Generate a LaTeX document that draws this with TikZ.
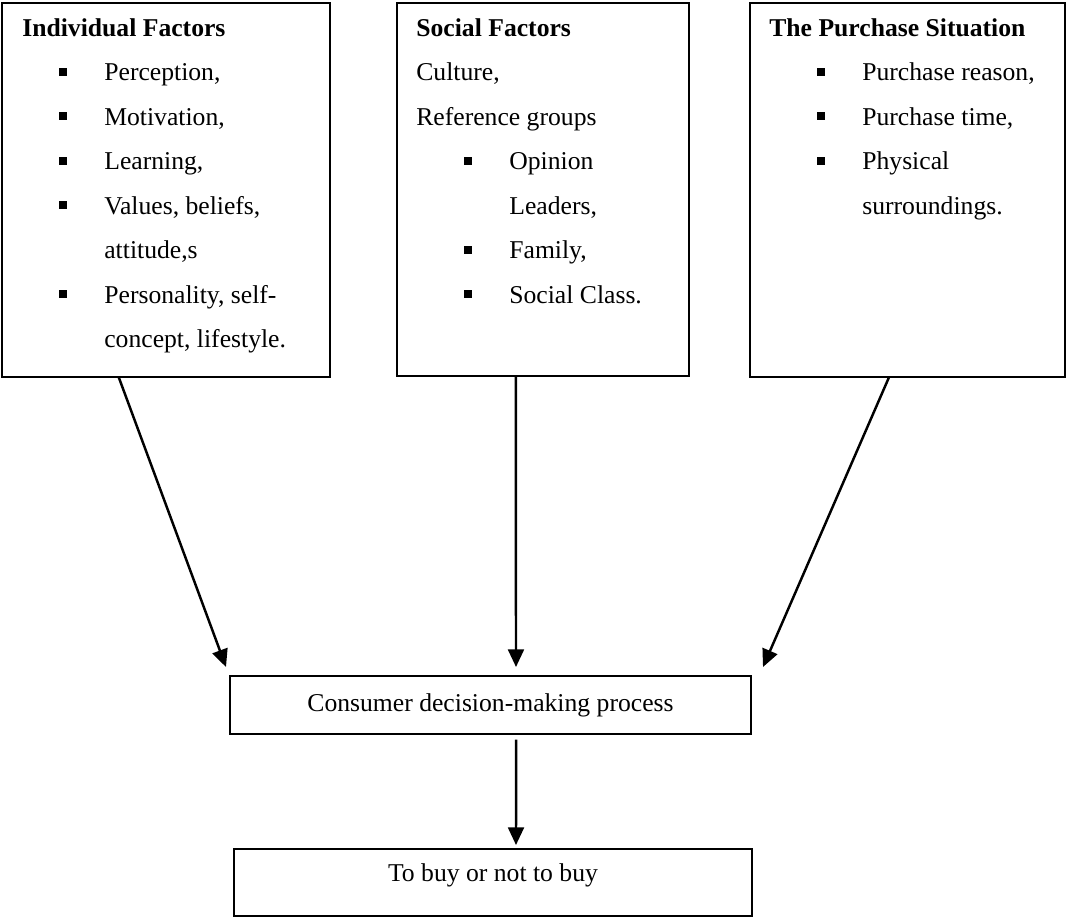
\documentclass[tikz,border=0pt]{standalone}
\usepackage{fontspec}
\setmainfont{Liberation Serif}
\usetikzlibrary{arrows.meta,calc}
\tikzset{
  box/.style={draw, line width=0.8pt, inner sep=0pt},
  txt/.style={anchor=base west, inner sep=0pt, font=\fontsize{14.6}{17}\selectfont},
  ttl/.style={anchor=base west, inner sep=0pt, font=\fontsize{14.6}{17}\selectfont\bfseries},
  arr/.style={-{Triangle[length=10pt,width=9pt]}, line width=1.4pt},
}

\begin{document}
\begin{tikzpicture}[x=0.02cm,y=-0.02cm]
    \useasboundingbox (0,0) rectangle (1066,917);
    % the three boxes of factors
    \node [box, minimum width=6.56cm, minimum height=7.48cm] (indiv) at (166,190) {};
    \node [box, minimum width=5.84cm, minimum height=7.46cm] (social) at (543,189.5) {};
    \node [box, minimum width=6.3cm, minimum height=7.48cm] (purch) at (907.5,190) {};
    % individual factors
    \node [ttl] (indiv-t) at (22,36) {Individual Factors};
    \node [txt] (indiv-1) at (104,80.5) {Perception,};
    \node [txt] (indiv-2) at (104,125) {Motivation,};
    \node [txt] (indiv-3) at (104,169.5) {Learning,};
    \node [txt] (indiv-4) at (104,214) {Values, beliefs,};
    \node [txt] (indiv-5) at (104,258.5) {attitude,s};
    \node [txt] (indiv-6) at (104,303) {Personality, self-};
    \node [txt] (indiv-7) at (104,347.5) {concept, lifestyle.};
    \foreach \y in {80.5,125,169.5,214,303}
        \fill (59,\y-13) rectangle ++(8,8);
    % social factors
    \node [ttl] (social-t) at (416,36) {Social Factors};
    \node [txt] (social-1) at (416,80.5) {Culture,};
    \node [txt] (social-2) at (416,125) {Reference groups};
    \node [txt] (social-3) at (509,169.5) {Opinion};
    \node [txt] (social-4) at (509,214) {Leaders,};
    \node [txt] (social-5) at (509,258.5) {Family,};
    \node [txt] (social-6) at (509,303) {Social Class.};
    \foreach \y in {169.5,258.5,303}
        \fill (464,\y-13) rectangle ++(8,8);
    % purchase situation
    \node [ttl] (purch-t) at (769,36) {The Purchase Situation};
    \node [txt] (purch-1) at (862,80.5) {Purchase reason,};
    \node [txt] (purch-2) at (862,125) {Purchase time,};
    \node [txt] (purch-3) at (862,169.5) {Physical};
    \node [txt] (purch-4) at (862,214) {surroundings.};
    \foreach \y in {80.5,125,169.5}
        \fill (817,\y-13) rectangle ++(8,8);
    % decision and outcome
    \node [box, minimum width=10.42cm, minimum height=1.16cm,
           font=\fontsize{14.6}{17}\selectfont] (proc) at (490.5,705) {Consumer decision-making process};
    \node [box, minimum width=10.36cm, minimum height=1.34cm] (buy) at (493,882.5) {};
    \node [inner sep=0pt, font=\fontsize{14.6}{17}\selectfont] (buy-t) at (493,875) {To buy or not to buy};
    % arrows
    \coordinate (tip-l) at (226,667);
    \coordinate (tip-m) at (516,667);
    \coordinate (tip-r) at (763,667);
    \coordinate (tip-b) at (516,845);
    \draw [arr] ($(indiv.south west)!0.357!(indiv.south east)$) -- (tip-l);
    \draw [arr] ($(social.south west)!0.4075!(social.south east)$) -- (tip-m);
    \draw [arr] ($(purch.south west)!0.441!(purch.south east)$) -- (tip-r);
    \draw [arr] ($(proc.south west)!0.549!(proc.south east)+(0,5)$) -- (tip-b);
\end{tikzpicture}
\end{document}
